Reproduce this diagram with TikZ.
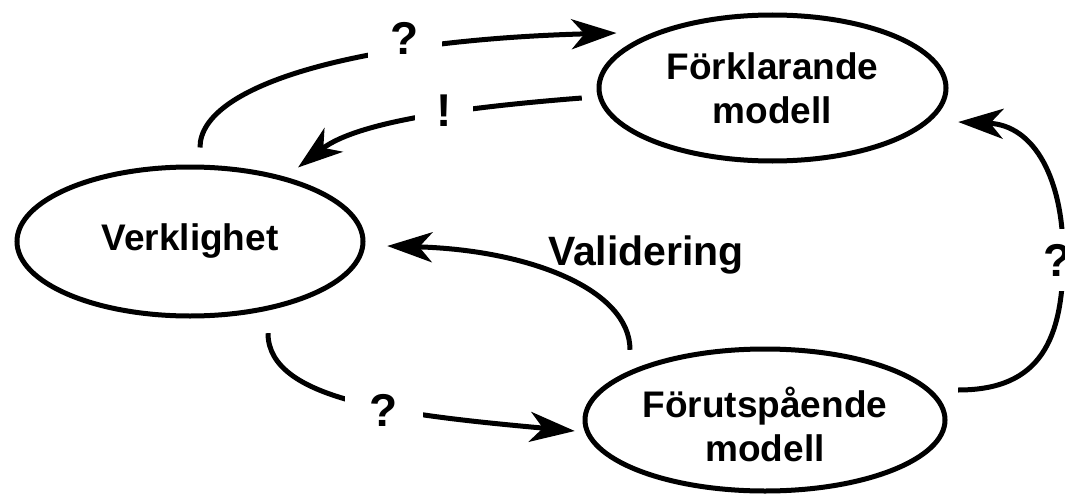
\documentclass[tikz,border=0pt]{standalone}
\usepackage{fontspec}
\setmainfont{Liberation Sans}
\usetikzlibrary{shapes.geometric,arrows.meta,calc}

\tikzset{
  stage/.style={ellipse, draw, line width=5pt, inner sep=0pt, align=center,
    font=\fontsize{37}{44}\selectfont\bfseries},
  flow/.style={line width=5pt, -{Stealth[length=45pt, width=30pt, inset=13pt]}},
  gap/.style={fill=white, inner sep=0pt, font=\fontsize{46}{50}\selectfont\bfseries},
  caption/.style={font=\fontsize{41}{48}\selectfont\bfseries, inner sep=0pt}
}

\begin{document}
\begin{tikzpicture}[x=1pt, y=-1pt]
  \useasboundingbox (0,0) rectangle (1065,495);
  \clip (0,0) rectangle (1065,495);

  % the three stages
  \node[stage, minimum width=346pt, minimum height=149pt] (V) at (190,241.5) {Verklighet};
  \node[stage, minimum width=347pt, minimum height=146pt] (FK) at (772.5,88) {Förklarande\\modell};
  \node[stage, minimum width=360pt, minimum height=142pt] (FU) at (765,420) {\rule{0pt}{40pt}Förutspående\\modell};

  % reality -> explanatory model
  \draw[flow] ($(V.north)+(10,-17)$) .. controls +(0,-63) and +(-257,7) .. ($(FK.west)+(20,-55)$);
  % explanatory model -> reality
  \draw[flow] ($(FK.west)+(-14.7,10)$) .. controls +(-102,8) and +(62,-48) .. ($(V.north)+(108,3)$);
  % predictive model -> explanatory model
  \draw[flow] ($(FU.east)+(10.7,-30)$) .. controls +(82,0) and +(0,84) .. ++(105,-134)
    .. controls +(0,-76) and +(77,3) .. ($(FK.east)+(9.7,34)$);
  % validation: predictive model -> reality
  \draw[flow] ($(FU.north)+(-135,3.3)$) .. controls +(0,-60) and +(143,4) .. ($(V.east)+(21.7,4.5)$);
  % reality -> predictive model
  \draw[flow] ($(V.south)+(78,14.7)$) .. controls +(0,67) and +(-175,-16) .. ($(FU.west)+(-7.7,11)$);

  % labels breaking the connectors
  \node[gap, minimum width=74pt, minimum height=50pt] (qtop) at (405,38) {?};
  \node[gap, minimum width=58pt, minimum height=42pt] (bang) at (444,111) {!};
  \node[gap, minimum width=36pt, minimum height=62pt] (qright) at (1058,260) {?};
  \node[gap, minimum width=78pt, minimum height=46pt] (qbot) at (384,410) {?};

  \node[caption, anchor=base] (val) at (646,265) {Validering};
\end{tikzpicture}
\end{document}
